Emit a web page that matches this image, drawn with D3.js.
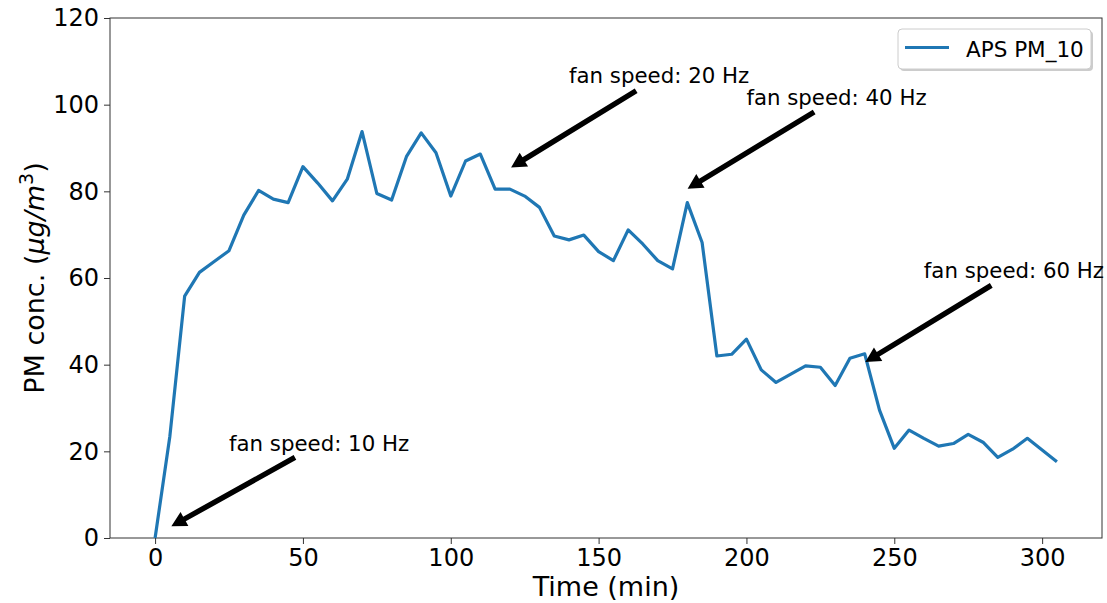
<!DOCTYPE html>
<html>
<head>
<meta charset="utf-8">
<script src="https://cdn.jsdelivr.net/npm/d3@7"></script>
<style>
  body { margin: 0; background: #fff; }
  svg { font-family: "DejaVu Sans", sans-serif; }
</style>
</head>
<body>
<div id="chart"></div>
<script>
// time in minutes, every 5 min
const times = d3.range(0, 306, 5);
const pm10 = [
  0, 23.5, 55.8, 61.3, 63.8, 66.3, 74.5, 80.2, 78.2, 77.4,
  85.7, 81.9, 77.8, 82.8, 93.8, 79.5, 78.0, 88.0, 93.5, 88.9,
  78.9, 87.0, 88.6, 80.5, 80.5, 78.9, 76.3, 69.7, 68.8, 69.9,
  66.1, 64.0, 71.1, 67.8, 64.0, 62.1, 77.4, 68.2, 42.0, 42.4,
  45.9, 38.8, 35.9, 37.8, 39.7, 39.4, 35.2, 41.5, 42.5, 29.5,
  20.7, 24.9, 23.0, 21.2, 21.8, 23.9, 22.1, 18.6, 20.5, 23.0,
  20.3, 17.6
];
const xTicks = [0, 50, 100, 150, 200, 250, 300];
const yTicks = [0, 20, 40, 60, 80, 100, 120];

// annotations (data units)
const annoText = ["fan speed: 10 Hz", "fan speed: 20 Hz", "fan speed: 40 Hz", "fan speed: 60 Hz"];
const annoTextPos = [[25, 20], [140, 105], [200, 100], [260, 60]];
const arrowTail = [[47.3, 18.6], [162.7, 103.2], [222.9, 98.3], [282.8, 58.3]];
const arrowTip = [[5.5, 2.7], [120.4, 85.5], [180.1, 80.6], [240.2, 40.6]];

const width = 1107, height = 603;
const margin = { top: 18, right: 5, bottom: 65, left: 110 };

const svg = d3.select('#chart').append('svg')
  .attr('width', width)
  .attr('height', height);

const x = d3.scaleLinear()
  .domain([-15.25, 320.25])
  .range([margin.left, width - margin.right]);
const y = d3.scaleLinear()
  .domain([0, 120])
  .range([height - margin.bottom, margin.top]);

// axes
const xAxis = svg.append('g')
  .attr('transform', `translate(0,${height - margin.bottom})`)
  .call(d3.axisBottom(x).tickValues(xTicks).tickSize(6).tickPadding(5).tickSizeOuter(0));
const yAxis = svg.append('g')
  .attr('transform', `translate(${margin.left},0)`)
  .call(d3.axisLeft(y).tickValues(yTicks).tickSize(6).tickPadding(5).tickSizeOuter(0));

[xAxis, yAxis].forEach(a => {
  a.select('.domain').remove();
  a.selectAll('line').attr('stroke', '#333').attr('stroke-width', 1);
  a.selectAll('text').attr('fill', '#000').style('font-size', '24px')
    .style('font-family', '"DejaVu Sans", sans-serif');
});

// frame
svg.append('rect')
  .attr('x', x.range()[0]).attr('y', y.range()[1])
  .attr('width', x.range()[1] - x.range()[0])
  .attr('height', y.range()[0] - y.range()[1])
  .attr('fill', 'none').attr('stroke', '#333').attr('stroke-width', 1);

// axis labels
svg.append('text')
  .attr('x', (x.range()[0] + x.range()[1]) / 2)
  .attr('y', 596)
  .attr('text-anchor', 'middle')
  .style('font-size', '27px')
  .text('Time (min)');

const yl = svg.append('text')
  .attr('transform', `translate(44,${(y.range()[0] + y.range()[1]) / 2}) rotate(-90)`)
  .attr('text-anchor', 'middle')
  .style('font-size', '27px');
yl.append('tspan').text('PM conc. (');
yl.append('tspan').style('font-style', 'italic').text('μg/m');
yl.append('tspan').attr('dy', -11).style('font-size', '19px').text('3');
yl.append('tspan').attr('dy', 11).text(')');

// line
const line = d3.line()
  .x((d, i) => x(times[i]))
  .y(d => y(d));
svg.append('path')
  .datum(pm10)
  .attr('d', line)
  .attr('fill', 'none')
  .attr('stroke', '#1f77b4')
  .attr('stroke-width', 3.2)
  .attr('stroke-linejoin', 'round');

// arrows + annotation text
function arrowPath(t, h) {
  const x0 = x(t[0]), y0 = y(t[1]), x1 = x(h[0]), y1 = y(h[1]);
  const dx = x1 - x0, dy = y1 - y0;
  const len = Math.sqrt(dx * dx + dy * dy);
  const ux = dx / len, uy = dy / len, nx = -uy, ny = ux;
  const sw = 2.7, hw = 8, hl = 15;
  const bx = x1 - ux * hl, by = y1 - uy * hl;
  const pts = [
    [x0 + nx * sw, y0 + ny * sw],
    [bx + nx * sw, by + ny * sw],
    [bx + nx * hw, by + ny * hw],
    [x1, y1],
    [bx - nx * hw, by - ny * hw],
    [bx - nx * sw, by - ny * sw],
    [x0 - nx * sw, y0 - ny * sw]
  ];
  return 'M' + pts.map(p => p.join(',')).join('L') + 'Z';
}

svg.selectAll('.arrow')
  .data(annoText)
  .enter()
  .append('path')
  .attr('class', 'arrow')
  .attr('d', (d, i) => arrowPath(arrowTail[i], arrowTip[i]))
  .attr('fill', '#000');

svg.selectAll('.anno')
  .data(annoText)
  .enter()
  .append('text')
  .attr('class', 'anno')
  .attr('x', (d, i) => x(annoTextPos[i][0]))
  .attr('y', (d, i) => y(annoTextPos[i][1]))
  .style('font-size', '21.3px')
  .text(d => d);

// legend
const lg = svg.append('g').attr('transform', 'translate(898,29)');
lg.append('rect')
  .attr('x', 2).attr('y', 2).attr('width', 193).attr('height', 40).attr('rx', 4)
  .attr('fill', '#999').attr('opacity', 0.5);
lg.append('rect')
  .attr('width', 193).attr('height', 40).attr('rx', 4)
  .attr('fill', '#fff').attr('stroke', '#ccc').attr('stroke-width', 1);
lg.append('line')
  .attr('x1', 7).attr('x2', 51).attr('y1', 18.5).attr('y2', 18.5)
  .attr('stroke', '#1f77b4').attr('stroke-width', 3.2);
lg.append('text')
  .attr('x', 68).attr('y', 27.5)
  .style('font-size', '21.5px')
  .text('APS PM_10');
</script>
</body>
</html>
